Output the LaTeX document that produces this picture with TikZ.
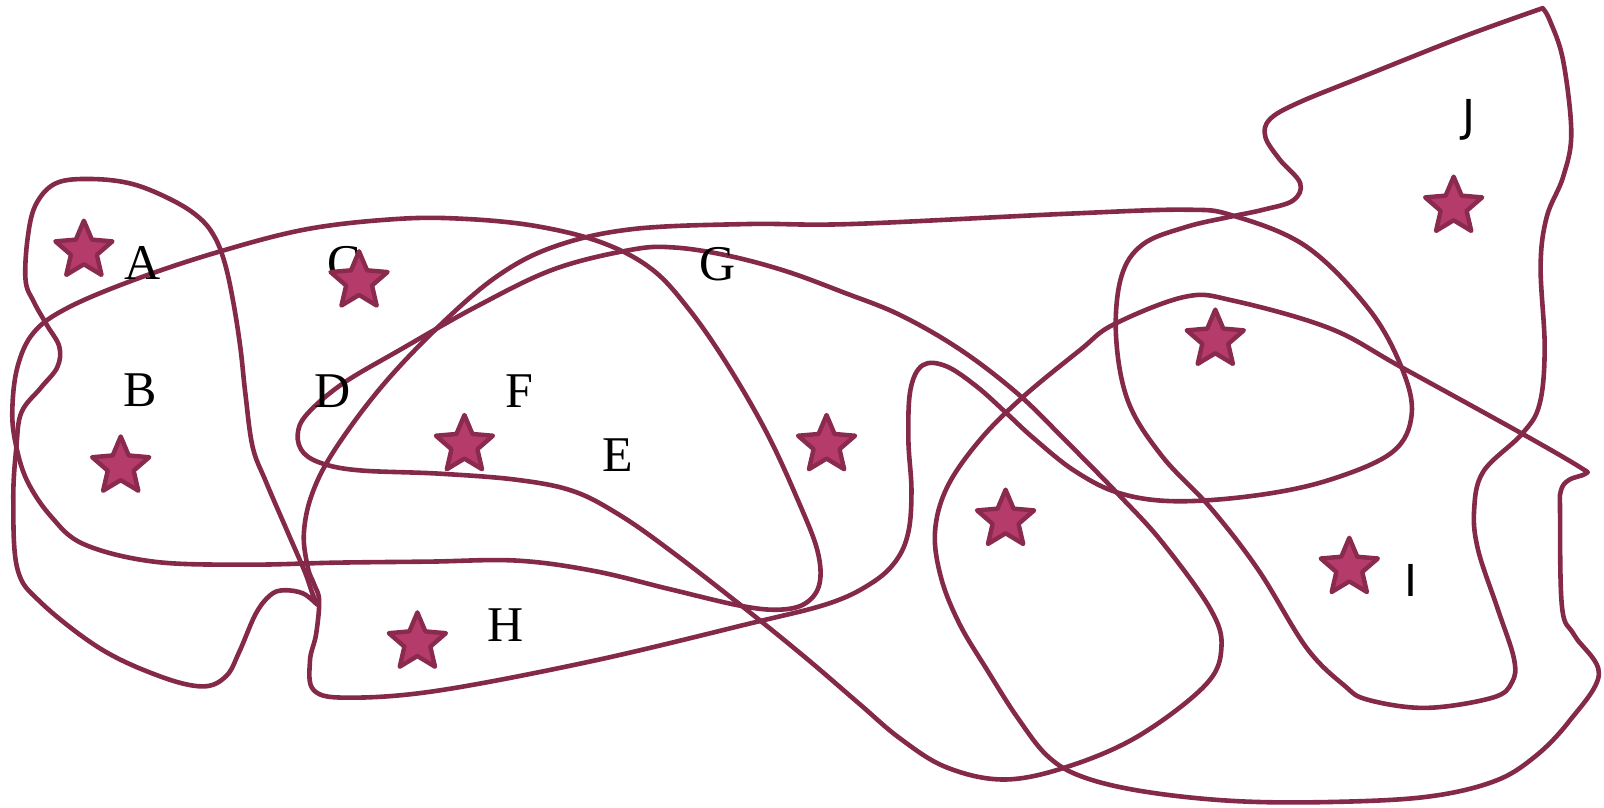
\documentclass[tikz,border=0pt]{standalone}
\usepackage{fontspec}
\setmainfont{Liberation Serif}
\newfontfamily\labsans{DejaVu Sans}
\usetikzlibrary{shapes.geometric}
\definecolor{curvecol}{RGB}{132,41,74}
\definecolor{starfill}{RGB}{181,59,106}
\definecolor{starline}{RGB}{138,42,79}
\begin{document}
\begin{tikzpicture}[x=0.5115pt,y=-0.5115pt,
  setline/.style={draw=curvecol,line width=2.3pt,line join=round,line cap=round},
  starnode/.style={star,star points=5,star point ratio=2.2,minimum size=30pt,inner sep=0pt,
    fill=starfill,draw=starline,line width=2.2pt,line join=round},
  seriflab/.style={font=\fontsize{25}{25}\selectfont,inner sep=0pt},
  sanslab/.style={font=\labsans\fontsize{22}{22}\selectfont,inner sep=0pt}]
\useasboundingbox (0,0) rectangle (1568,789);

% A-loop
\draw[setline] plot[smooth,tension=0.6] coordinates {(310,591) (296,580) (277,577) (264,582) (250,600) (234,637) (221,661) (198,671) (156,661) (98,634) (40,589) (17,556) (13,488) (16,437) (21,403) (40,379) (56,359) (58,339) (46,318) (33,295) (25,274) (27,233) (35,200) (55,179) (90,175) (130,180) (169,196) (195,213) (210,232) (220,258) (228,295) (235,340) (240,386) (247,437) (260,471) (282,522) (298,559) (305,579) (310,591)};

% big ellipse (B)
\draw[setline] plot[smooth cycle,tension=0.6] coordinates {(300,224) (389,214) (455,214) (524,221) (588,237) (637,263) (674,303) (712,358) (750,424) (780,489) (799,538) (801,571) (787,590) (761,596) (723,592) (655,576) (580,558) (505,548) (420,549) (330,550) (240,552) (150,549) (82,532) (50,505) (27,471) (16,437) (12,403) (17,359) (33,325) (66,301) (130,274) (211,247)};

% D / E loop
\draw[setline] plot[smooth cycle,tension=0.6] coordinates {(300,405) (335,375) (391,342) (467,299) (542,263) (618,244) (660,242) (712,250) (768,265) (825,286) (880,308) (939,342) (995,385) (1042,431) (1094,484) (1136,530) (1183,595) (1194,633) (1178,670) (1112,720) (1042,750) (981,762) (925,750) (880,722) (840,688) (790,645) (731,597) (655,538) (605,503) (560,480) (505,469) (429,463) (354,460) (318,454) (297,443) (291,425)};

% H curve
\draw[setline] plot[smooth cycle,tension=0.6] coordinates {(307,675) (303,646) (309,620) (312,587) (307,571) (301,555) (297,522) (305,483) (327,440) (373,378) (429,319) (486,270) (542,241) (618,224) (731,219) (832,219) (1042,209) (1159,205) (1206,211) (1277,241) (1338,302) (1370,359) (1380,405) (1361,442) (1300,469) (1230,484) (1150,490) (1094,482) (1050,460) (1010,428) (984,404) (955,378) (925,358) (902,357) (890,381) (888,430) (891,479) (888,520) (876,548) (852,570) (810,590) (731,610) (580,646) (429,675) (342,682)};

% right bottom loop
\draw[setline] plot[smooth cycle,tension=0.6] coordinates {(914,520) (926,476) (958,430) (1000,388) (1056,342) (1089,317) (1159,290) (1206,294) (1300,321) (1370,359) (1488,424) (1545,457) (1550,463) (1534,469) (1526,479) (1525,500) (1527,594) (1539,621) (1563,659) (1534,705) (1500,740) (1460,764) (1394,779) (1300,784) (1206,783) (1120,774) (1060,760) (1025,740) (995,702) (965,655) (938,610) (920,565)};

% I / J curve
\draw[setline] plot[smooth,tension=0.6] coordinates {(1508,8) (1515,20) (1528,59) (1536,130) (1528,173) (1512,212) (1506,260) (1510,340) (1505,395) (1488,424) (1450,461) (1441,499) (1445,538) (1464,595) (1480,644) (1478,667) (1459,682) (1394,692) (1337,684) (1314,670) (1277,633) (1230,557) (1183,496) (1136,446) (1103,393) (1091,329) (1096,271) (1117,239) (1159,222) (1202,212) (1235,205) (1264,196) (1271,179) (1251,156) (1237,134) (1241,117) (1268,101) (1332,75) (1430,36) (1508,8)};

% labels
\node[seriflab] (lA) at (139,257) {A};
\node[seriflab] (lB) at (137,381) {B};
\node[seriflab] (lC) at (336,257) {C};
\node[seriflab] (lD) at (325,382) {D};
\node[seriflab] (lE) at (604,445) {E};
\node[seriflab] (lF) at (508,382) {F};
\node[seriflab] (lG) at (701,258) {G};
\node[seriflab] (lH) at (494,611) {H};
\node[sanslab] (lI) at (1379,567) {I};
\node[sanslab] (lJ) at (1436,117) {J};

% stars
\node[starnode] (sA) at (82,245) {};
\node[starnode] (sC) at (351,275) {};
\node[starnode] (sB) at (118,456) {};
\node[starnode] (sF) at (454,435) {};
\node[starnode] (sR) at (808,435) {};
\node[starnode] (sH) at (408,628) {};
\node[starnode] (sK) at (983,508) {};
\node[starnode] (sL) at (1188,332) {};
\node[starnode] (sI) at (1319,555) {};
\node[starnode] (sJ) at (1421,202) {};
\end{tikzpicture}
\end{document}
